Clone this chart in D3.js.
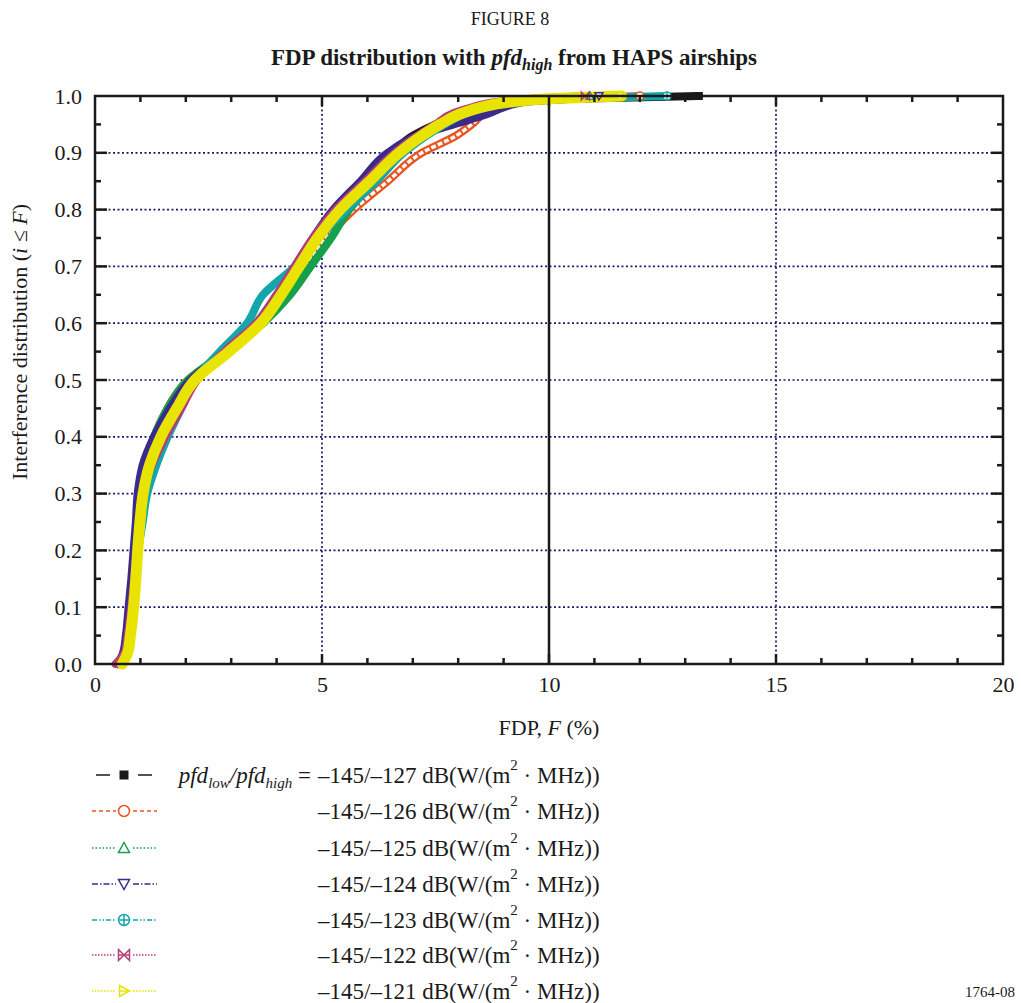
<!DOCTYPE html>
<html>
<head>
<meta charset="utf-8">
<script src="https://cdn.jsdelivr.net/npm/d3@7"></script>
<style>
  body { margin: 0; background: #fff; }
  svg { display: block; }
  text { font-family: "Liberation Serif", "Times New Roman", serif; fill: #1a1a1a; }
</style>
</head>
<body>
<div id="chart"></div>
<script>
// cumulative probability levels (y) shared by every series
const levels = [0, 0.02, 0.05, 0.1, 0.15, 0.2, 0.25, 0.3, 0.35, 0.4, 0.45, 0.5, 0.55, 0.6,
  0.65, 0.7, 0.75, 0.8, 0.85, 0.9, 0.93, 0.95, 0.97, 0.98, 0.99, 0.995, 1.0];

// FDP (%) read at each level, one array per pfd_high value
const fdp127 = [0.5, 0.63, 0.7, 0.76, 0.82, 0.87, 0.92, 0.97, 1.1, 1.35, 1.7, 2.15, 2.9, 3.6,
  4.05, 4.45, 4.85, 5.3, 5.9, 6.55, 7.0, 7.5, 8.2, 8.7, 9.4, 10.6, 13.3];
const fdp126 = [0.5, 0.65, 0.72, 0.8, 0.86, 0.92, 0.97, 1.02, 1.15, 1.4, 1.6, 2.05, 2.9, 3.65,
  4.2, 4.6, 5.1, 5.7, 6.45, 7.2, 7.95, 8.3, 8.6, 8.9, 9.4, 10.4, 12.0];
const fdp125 = [0.55, 0.68, 0.74, 0.8, 0.86, 0.92, 0.96, 1.0, 1.1, 1.3, 1.6, 2.05, 2.9, 3.7,
  4.3, 4.75, 5.2, 5.6, 6.15, 6.75, 7.2, 7.6, 8.1, 8.5, 9.1, 9.8, 10.9];
const fdp124 = [0.5, 0.62, 0.68, 0.74, 0.8, 0.85, 0.9, 0.94, 1.05, 1.3, 1.65, 2.1, 2.9, 3.55,
  4.0, 4.4, 4.8, 5.25, 5.85, 6.45, 7.1, 7.9, 8.7, 9.0, 9.5, 10.5, 11.1];
const fdp123 = [0.55, 0.68, 0.75, 0.82, 0.88, 0.95, 1.05, 1.15, 1.35, 1.6, 1.9, 2.2, 2.75, 3.35,
  3.7, 4.4, 4.9, 5.55, 6.2, 6.8, 7.3, 7.7, 8.2, 8.6, 9.3, 10.3, 12.6];
const fdp122 = [0.45, 0.65, 0.72, 0.8, 0.86, 0.92, 0.98, 1.05, 1.25, 1.55, 1.9, 2.25, 2.85, 3.55,
  4.0, 4.4, 4.8, 5.3, 5.95, 6.6, 7.1, 7.5, 7.9, 8.3, 8.9, 9.7, 10.8];
const fdp121 = [0.6, 0.72, 0.78, 0.85, 0.9, 0.94, 0.99, 1.06, 1.2, 1.45, 1.8, 2.2, 2.95, 3.65,
  4.1, 4.5, 4.9, 5.4, 6.05, 6.7, 7.2, 7.6, 8.1, 8.5, 9.2, 10.0, 11.6];

const seriesLabels = ['–145/–127', '–145/–126', '–145/–125', '–145/–124', '–145/–123', '–145/–122', '–145/–121'];
const seriesValues = [fdp127, fdp126, fdp125, fdp124, fdp123, fdp122, fdp121];
const seriesColors = ['#1a1a1a', '#e8541e', '#14a04c', '#3a2a8c', '#14a6aa', '#b83c7c', '#e8e400'];
const seriesDash = ['none', '4,3', '1.5,2', '6,2,1.5,2', '5,2,1.5,2,1.5,2', '1.5,1.5', '1.5,1.5'];
const seriesSymbols = ['square', 'circle', 'triUp', 'triDown', 'circlePlus', 'bowtie', 'triRight'];

const xTicks = [0, 5, 10, 15, 20];
const yTicks = [0, 0.1, 0.2, 0.3, 0.4, 0.5, 0.6, 0.7, 0.8, 0.9, 1.0];

const W = 1021;
const H = 1003;
const plot = { left: 95, right: 1003, top: 96, bottom: 664 };

const svg = d3.select('#chart').append('svg')
  .attr('width', W)
  .attr('height', H);

const x = d3.scaleLinear().domain([0, 20]).range([plot.left, plot.right]);
const y = d3.scaleLinear().domain([0, 1]).range([plot.bottom, plot.top]);

// titles
svg.append('text')
  .attr('x', 510).attr('y', 25)
  .attr('text-anchor', 'middle')
  .style('font-size', '18px')
  .text('FIGURE 8');

const title = svg.append('text')
  .attr('x', 514).attr('y', 65)
  .attr('text-anchor', 'middle')
  .style('font-size', '23px')
  .style('font-weight', 'bold');
title.append('tspan').text('FDP distribution with ');
title.append('tspan').style('font-style', 'italic').text('pfd');
title.append('tspan').style('font-style', 'italic').style('font-size', '16px').attr('dy', 5).text('high');
title.append('tspan').attr('dy', -5).text(' from HAPS airships');

// grid
const grid = svg.append('g');
grid.selectAll('.hgrid')
  .data(yTicks.slice(1, -1))
  .enter()
  .append('line')
  .attr('x1', plot.left).attr('x2', plot.right)
  .attr('y1', (d) => y(d)).attr('y2', (d) => y(d))
  .attr('stroke', '#1c1a6a')
  .attr('stroke-width', 1.7)
  .attr('stroke-dasharray', '2,2.5');

grid.selectAll('.vgrid')
  .data([5, 15])
  .enter()
  .append('line')
  .attr('x1', (d) => x(d)).attr('x2', (d) => x(d))
  .attr('y1', plot.top).attr('y2', plot.bottom)
  .attr('stroke', '#1c1a6a')
  .attr('stroke-width', 1.7)
  .attr('stroke-dasharray', '2,2.5');

grid.append('line')
  .attr('x1', x(10)).attr('x2', x(10))
  .attr('y1', plot.top).attr('y2', plot.bottom)
  .attr('stroke', '#1a1a1a')
  .attr('stroke-width', 2.5);

// symbols
const drawSymbol = (g, kind, color, s) => {
  switch (kind) {
    case 'square':
      g.append('rect').attr('x', -s).attr('y', -s).attr('width', 2 * s).attr('height', 2 * s)
        .attr('fill', color);
      break;
    case 'circle':
      g.append('circle').attr('r', s).attr('fill', '#fff').attr('stroke', color).attr('stroke-width', 1.5);
      break;
    case 'triUp':
      g.append('path').attr('d', `M0,${-s}L${s},${s * 0.8}L${-s},${s * 0.8}Z`)
        .attr('fill', '#fff').attr('stroke', color).attr('stroke-width', 1.5);
      break;
    case 'triDown':
      g.append('path').attr('d', `M0,${s}L${s},${-s * 0.8}L${-s},${-s * 0.8}Z`)
        .attr('fill', '#fff').attr('stroke', color).attr('stroke-width', 1.5);
      break;
    case 'circlePlus':
      g.append('circle').attr('r', s).attr('fill', '#fff').attr('stroke', color).attr('stroke-width', 1.5);
      g.append('path').attr('d', `M${-s},0H${s}M0,${-s}V${s}`).attr('stroke', color).attr('stroke-width', 1.5);
      break;
    case 'bowtie':
      g.append('path').attr('d', `M${-s},${-s}L${s},${s}L${s},${-s}L${-s},${s}Z`)
        .attr('fill', 'none').attr('stroke', color).attr('stroke-width', 1.5);
      g.append('path').attr('d', `M${-s},0H${s}`).attr('stroke', color).attr('stroke-width', 1.5);
      break;
    case 'triRight':
      g.append('path').attr('d', `M${s},0L${-s * 0.8},${-s}L${-s * 0.8},${s}Z`)
        .attr('fill', '#fff').attr('stroke', color).attr('stroke-width', 1.5);
      g.append('path').attr('d', `M${-s},0H${s}`).attr('stroke', color).attr('stroke-width', 1.5);
      break;
    default:
      break;
  }
};

// curves, drawn as thick bands like the overlapping marker trails
const series = seriesValues.map((vals, i) => ({
  label: seriesLabels[i],
  color: seriesColors[i],
  symbol: seriesSymbols[i],
  points: vals.map((f, j) => ({ f, p: levels[j] })),
}));

const lineGen = d3.line()
  .x((d) => x(d.f))
  .y((d) => y(d.p))
  .curve(d3.curveMonotoneY);

const curves = svg.append('g');
series.forEach((s, i) => {
  curves.append('path')
    .attr('d', lineGen(s.points))
    .attr('fill', 'none')
    .attr('stroke', s.color)
    .attr('stroke-width', i === 6 ? 11 : 8)
    .attr('stroke-linejoin', 'round')
    .attr('stroke-linecap', 'round');
  if (i === 1) {
    // open-circle trail of the -126 series
    curves.append('path')
      .attr('d', lineGen(s.points))
      .attr('fill', 'none')
      .attr('stroke', '#fff')
      .attr('stroke-width', 3.5)
      .attr('stroke-dasharray', '5,2')
      .attr('stroke-linejoin', 'round');
  }
});

// last point of each series, along the top of the frame
series.forEach((s) => {
  const last = s.points[s.points.length - 1];
  const g = svg.append('g').attr('transform', `translate(${x(last.f)},${y(last.p)})`);
  drawSymbol(g, s.symbol, s.color, 4);
});

// frame
svg.append('rect')
  .attr('x', plot.left).attr('y', plot.top)
  .attr('width', plot.right - plot.left)
  .attr('height', plot.bottom - plot.top)
  .attr('fill', 'none')
  .attr('stroke', '#1a1a1a')
  .attr('stroke-width', 2.5);

// inner ticks
const ticks = svg.append('g').attr('stroke', '#1a1a1a').attr('stroke-width', 2.5);
d3.range(1, 20).forEach((v) => {
  const len = v % 5 === 0 ? 10 : 6;
  ticks.append('line').attr('x1', x(v)).attr('x2', x(v)).attr('y1', plot.bottom).attr('y2', plot.bottom - len);
  ticks.append('line').attr('x1', x(v)).attr('x2', x(v)).attr('y1', plot.top).attr('y2', plot.top + len);
});
d3.range(1, 20).forEach((k) => {
  const v = k * 0.05;
  const len = k % 2 === 0 ? 12 : 6;
  ticks.append('line').attr('x1', plot.left).attr('x2', plot.left + len).attr('y1', y(v)).attr('y2', y(v));
  ticks.append('line').attr('x1', plot.right).attr('x2', plot.right - len).attr('y1', y(v)).attr('y2', y(v));
});

// axes labels
const xAxis = svg.append('g')
  .attr('transform', `translate(0,${plot.bottom})`)
  .call(d3.axisBottom(x).tickValues(xTicks).tickSize(0).tickPadding(12).tickFormat(d3.format('d')));
xAxis.select('.domain').remove();
xAxis.selectAll('text').style('font-size', '22px').style('font-family', '"Liberation Serif", serif').attr('fill', '#1a1a1a');

const yAxis = svg.append('g')
  .attr('transform', `translate(${plot.left},0)`)
  .call(d3.axisLeft(y).tickValues(yTicks).tickSize(0).tickPadding(13).tickFormat(d3.format('.1f')));
yAxis.select('.domain').remove();
yAxis.selectAll('text').style('font-size', '22px').style('font-family', '"Liberation Serif", serif').attr('fill', '#1a1a1a');

const xLabel = svg.append('text')
  .attr('x', 549).attr('y', 735)
  .attr('text-anchor', 'middle')
  .style('font-size', '22px');
xLabel.append('tspan').text('FDP, ');
xLabel.append('tspan').style('font-style', 'italic').text('F');
xLabel.append('tspan').text(' (%)');

const yLabel = svg.append('text')
  .attr('transform', 'translate(27,342) rotate(-90)')
  .attr('text-anchor', 'middle')
  .style('font-size', '22px');
yLabel.append('tspan').text('Interference distribution (');
yLabel.append('tspan').style('font-style', 'italic').text('i');
yLabel.append('tspan').text(' ≤ ');
yLabel.append('tspan').style('font-style', 'italic').text('F');
yLabel.append('tspan').text(')');

// legend
const legendRows = [775, 811, 848, 884, 920, 955, 991];
const legend = svg.append('g');
series.forEach((s, i) => {
  const cy = legendRows[i];
  const g = legend.append('g');
  if (i === 0) {
    g.append('line').attr('x1', 96).attr('x2', 110).attr('y1', cy).attr('y2', cy)
      .attr('stroke', s.color).attr('stroke-width', 1.5);
    g.append('line').attr('x1', 138).attr('x2', 152).attr('y1', cy).attr('y2', cy)
      .attr('stroke', s.color).attr('stroke-width', 1.5);
  } else {
    g.append('line').attr('x1', 92).attr('x2', 116).attr('y1', cy).attr('y2', cy)
      .attr('stroke', s.color).attr('stroke-width', 1.3).attr('stroke-dasharray', seriesDash[i]);
    g.append('line').attr('x1', 133).attr('x2', 157).attr('y1', cy).attr('y2', cy)
      .attr('stroke', s.color).attr('stroke-width', 1.3).attr('stroke-dasharray', seriesDash[i]);
  }
  const m = g.append('g').attr('transform', `translate(124,${cy})`);
  drawSymbol(m, s.symbol, s.color, i === 0 ? 4.5 : 5.5);

  const t = g.append('text')
    .attr('x', 318).attr('y', cy + 8)
    .style('font-size', '23px');
  t.append('tspan').text(`${s.label} dB(W/(m`);
  t.append('tspan').style('font-size', '15px').attr('dy', -13).text('2');
  t.append('tspan').attr('dy', 13).text(' · MHz))');
});

const prefix = legend.append('text')
  .attr('x', 311).attr('y', legendRows[0] + 8)
  .attr('text-anchor', 'end')
  .style('font-size', '23px');
prefix.append('tspan').style('font-style', 'italic').text('pfd');
prefix.append('tspan').style('font-style', 'italic').style('font-size', '15px').attr('dy', 5).text('low');
prefix.append('tspan').attr('dy', -5).style('font-style', 'italic').text('/pfd');
prefix.append('tspan').style('font-style', 'italic').style('font-size', '15px').attr('dy', 5).text('high');
prefix.append('tspan').attr('dy', -5).text(' =');

svg.append('text')
  .attr('x', 1015).attr('y', 997)
  .attr('text-anchor', 'end')
  .style('font-size', '15px')
  .text('1764-08');
</script>
</body>
</html>
